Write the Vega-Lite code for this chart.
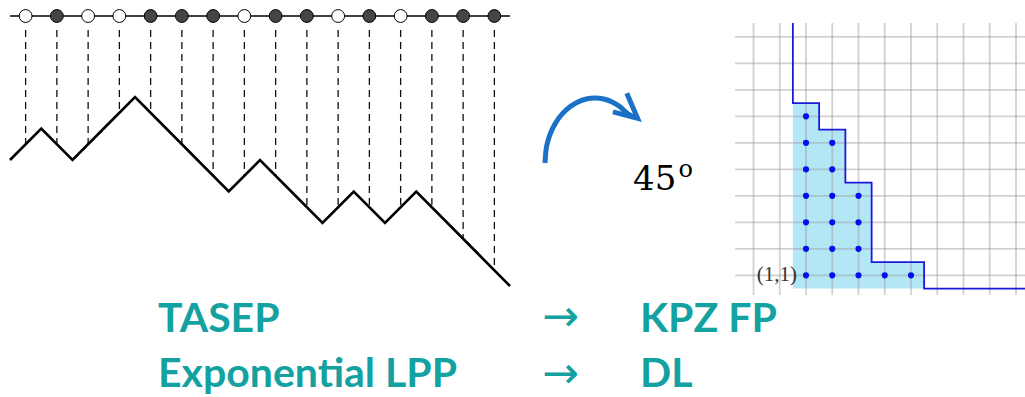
{
  "$schema": "https://vega.github.io/schema/vega-lite/v6.json",
  "width": 1025,
  "height": 397,
  "padding": 0,
  "autosize": {"type": "none"},
  "background": "white",
  "config": {"view": {"stroke": null}},
  "datasets": {
    "lattice": [{"x0": 0, "x1": 16, "h": 4.571}],
    "sites": [
      {"k": 0.5, "state": "empty", "hp": 0.5, "ht": 4.13, "hl": 4.571},
      {"k": 1.5, "state": "occupied", "hp": 0.5, "ht": 4.13, "hl": 4.571},
      {"k": 2.5, "state": "empty", "hp": 0.5, "ht": 4.13, "hl": 4.571},
      {"k": 3.5, "state": "empty", "hp": 1.5, "ht": 4.13, "hl": 4.571},
      {"k": 4.5, "state": "occupied", "hp": 1.5, "ht": 4.13, "hl": 4.571},
      {"k": 5.5, "state": "occupied", "hp": 0.5, "ht": 4.13, "hl": 4.571},
      {"k": 6.5, "state": "occupied", "hp": -0.5, "ht": 4.13, "hl": 4.571},
      {"k": 7.5, "state": "empty", "hp": -0.5, "ht": 4.13, "hl": 4.571},
      {"k": 8.5, "state": "occupied", "hp": -0.5, "ht": 4.13, "hl": 4.571},
      {"k": 9.5, "state": "occupied", "hp": -1.5, "ht": 4.13, "hl": 4.571},
      {"k": 10.5, "state": "empty", "hp": -1.5, "ht": 4.13, "hl": 4.571},
      {"k": 11.5, "state": "occupied", "hp": -1.5, "ht": 4.13, "hl": 4.571},
      {"k": 12.5, "state": "empty", "hp": -1.5, "ht": 4.13, "hl": 4.571},
      {"k": 13.5, "state": "occupied", "hp": -1.5, "ht": 4.13, "hl": 4.571},
      {"k": 14.5, "state": "occupied", "hp": -2.5, "ht": 4.13, "hl": 4.571},
      {"k": 15.5, "state": "occupied", "hp": -3.5, "ht": 4.13, "hl": 4.571}
    ],
    "path": [
      {"x": 0, "h": 0}, {"x": 1, "h": 1}, {"x": 2, "h": 0}, {"x": 3, "h": 1},
      {"x": 4, "h": 2}, {"x": 5, "h": 1}, {"x": 6, "h": 0}, {"x": 7, "h": -1},
      {"x": 8, "h": 0}, {"x": 9, "h": -1}, {"x": 10, "h": -2}, {"x": 11, "h": -1},
      {"x": 12, "h": -2}, {"x": 13, "h": -1}, {"x": 14, "h": -2}, {"x": 15, "h": -3},
      {"x": 16, "h": -4}
    ],
    "vgrid": [
      {"g": -1, "lo": 0.26, "hi": 10.52}, {"g": 0, "lo": 0.26, "hi": 10.52}, {"g": 1, "lo": 0.26, "hi": 10.52},
      {"g": 2, "lo": 0.26, "hi": 10.52}, {"g": 3, "lo": 0.26, "hi": 10.52}, {"g": 4, "lo": 0.26, "hi": 10.52},
      {"g": 5, "lo": 0.26, "hi": 10.52}, {"g": 6, "lo": 0.26, "hi": 10.52}, {"g": 7, "lo": 0.26, "hi": 10.52},
      {"g": 8, "lo": 0.26, "hi": 10.52}, {"g": 9, "lo": 0.26, "hi": 10.52}
    ],
    "hgrid": [
      {"g": 1, "lo": -1.7, "hi": 9.8}, {"g": 2, "lo": -1.7, "hi": 9.8}, {"g": 3, "lo": -1.7, "hi": 9.8},
      {"g": 4, "lo": -1.7, "hi": 9.8}, {"g": 5, "lo": -1.7, "hi": 9.8}, {"g": 6, "lo": -1.7, "hi": 9.8},
      {"g": 7, "lo": -1.7, "hi": 9.8}, {"g": 8, "lo": -1.7, "hi": 9.8}, {"g": 9, "lo": -1.7, "hi": 9.8},
      {"g": 10, "lo": -1.7, "hi": 9.8}
    ],
    "region": [
      {"i": 0.5, "top": 7.5, "base": 0.5}, {"i": 1.5, "top": 6.5, "base": 0.5}, {"i": 2.5, "top": 4.5, "base": 0.5},
      {"i": 3.5, "top": 1.5, "base": 0.5}, {"i": 5.5, "top": 1.5, "base": 0.5}
    ],
    "stairs": [
      {"o": 0, "i": 0.5, "j": 10.52}, {"o": 1, "i": 0.5, "j": 7.5}, {"o": 2, "i": 1.5, "j": 7.5},
      {"o": 3, "i": 1.5, "j": 6.5}, {"o": 4, "i": 2.5, "j": 6.5}, {"o": 5, "i": 2.5, "j": 4.5},
      {"o": 6, "i": 3.5, "j": 4.5}, {"o": 7, "i": 3.5, "j": 1.5}, {"o": 8, "i": 5.5, "j": 1.5},
      {"o": 9, "i": 5.5, "j": 0.5}, {"o": 10, "i": 9.8, "j": 0.5}
    ],
    "cells": [
      {"i": 1, "j": 1}, {"i": 1, "j": 2}, {"i": 1, "j": 3}, {"i": 1, "j": 4}, {"i": 1, "j": 5}, {"i": 1, "j": 6}, {"i": 1, "j": 7},
      {"i": 2, "j": 1}, {"i": 2, "j": 2}, {"i": 2, "j": 3}, {"i": 2, "j": 4}, {"i": 2, "j": 5}, {"i": 2, "j": 6},
      {"i": 3, "j": 1}, {"i": 3, "j": 2}, {"i": 3, "j": 3}, {"i": 3, "j": 4},
      {"i": 4, "j": 1}, {"i": 5, "j": 1}
    ],
    "origin": [{"t": "(1,1)", "i": 0.66, "j": 1}],
    "curve": [
      {"o": 0, "x": 53.17, "y": 41.06}, {"o": 1, "x": 53.25, "y": 38.21}, {"o": 2, "x": 53.46, "y": 35.47},
      {"o": 3, "x": 53.82, "y": 32.87}, {"o": 4, "x": 54.31, "y": 30.53}, {"o": 5, "x": 54.92, "y": 28.51},
      {"o": 6, "x": 55.61, "y": 26.88}, {"o": 7, "x": 56.38, "y": 25.67}, {"o": 8, "x": 57.2, "y": 24.94},
      {"o": 9, "x": 58.05, "y": 24.69}, {"o": 10, "x": 58.9, "y": 24.94}, {"o": 11, "x": 59.72, "y": 25.67},
      {"o": 12, "x": 60.49, "y": 26.88}, {"o": 13, "x": 61.18, "y": 28.51}, {"o": 14, "x": 61.76, "y": 29.47}
    ],
    "head": [
      {"o": 0, "x": 61.15, "y": 23.5}, {"o": 1, "x": 62.2, "y": 29.8}, {"o": 2, "x": 59.8, "y": 28.2}
    ],
    "titles": [
      {"t": "TASEP", "x": 15.41, "y": 83.63},
      {"t": "Exponential LPP", "x": 15.41, "y": 97.4},
      {"t": "KPZ FP", "x": 62.44, "y": 83.63},
      {"t": "DL", "x": 62.44, "y": 97.4}
    ],
    "arrows": [
      {"t": "→", "x": 54.68, "y": 80.1},
      {"t": "→", "x": 54.68, "y": 94.46}
    ],
    "angle": [{"t": "45", "x": 61.76, "y": 47.86}],
    "sup": [{"t": "o", "x": 66.2, "y": 44.58}]
  },
  "layer": [
    {
      "layer": [
        {
          "data": {"name": "lattice"},
          "mark": {"type": "rule", "stroke": "#000000", "strokeWidth": 1.6},
          "encoding": {
            "x": {"field": "x0", "type": "quantitative", "scale": {"domain": [0, 16], "range": [10, 510], "nice": false, "zero": false}, "axis": null},
            "x2": {"field": "x1"},
            "y": {"field": "h", "type": "quantitative", "scale": {"domain": [-5, 5], "range": [317.5, 2.5], "nice": false, "zero": false}, "axis": null}
          }
        },
        {
          "data": {"name": "sites"},
          "mark": {"type": "rule", "stroke": "#111111", "strokeWidth": 1.3, "strokeDash": [7, 5]},
          "encoding": {
            "x": {"field": "k", "type": "quantitative", "scale": {"domain": [0, 16], "range": [10, 510], "nice": false, "zero": false}, "axis": null},
            "y": {"field": "ht", "type": "quantitative", "scale": {"domain": [-5, 5], "range": [317.5, 2.5], "nice": false, "zero": false}, "axis": null},
            "y2": {"field": "hp"}
          }
        },
        {
          "data": {"name": "path"},
          "mark": {"type": "line", "stroke": "#000000", "strokeWidth": 2.6, "strokeJoin": "miter"},
          "encoding": {
            "x": {"field": "x", "type": "quantitative", "scale": {"domain": [0, 16], "range": [10, 510], "nice": false, "zero": false}, "axis": null},
            "y": {"field": "h", "type": "quantitative", "scale": {"domain": [-5, 5], "range": [317.5, 2.5], "nice": false, "zero": false}, "axis": null}
          }
        },
        {
          "data": {"name": "sites"},
          "mark": {"type": "point", "shape": "circle", "filled": true, "size": 165, "stroke": "#000000", "strokeWidth": 1, "opacity": 1},
          "encoding": {
            "x": {"field": "k", "type": "quantitative", "scale": {"domain": [0, 16], "range": [10, 510], "nice": false, "zero": false}, "axis": null},
            "y": {"field": "hl", "type": "quantitative", "scale": {"domain": [-5, 5], "range": [317.5, 2.5], "nice": false, "zero": false}, "axis": null},
            "fill": {"field": "state", "type": "nominal", "scale": {"domain": ["empty", "occupied"], "range": ["#ffffff", "#454545"]}, "legend": null}
          }
        }
      ]
    },
    {
      "layer": [
        {
          "data": {"name": "region"},
          "mark": {"type": "area", "interpolate": "step-after", "color": "#b3e7f6", "opacity": 1},
          "encoding": {
            "x": {"field": "i", "type": "quantitative", "scale": {"domain": [-2, 10], "range": [727.25, 1042.25], "nice": false, "zero": false}, "axis": null},
            "y": {"field": "top", "type": "quantitative", "scale": {"domain": [0, 11], "range": [301.8, 10.3], "nice": false, "zero": false}, "axis": null},
            "y2": {"field": "base"}
          }
        },
        {
          "data": {"name": "vgrid"},
          "mark": {"type": "rule", "stroke": "#9a9a9a", "strokeWidth": 1.8, "opacity": 0.45},
          "encoding": {
            "x": {"field": "g", "type": "quantitative", "scale": {"domain": [-2, 10], "range": [727.25, 1042.25], "nice": false, "zero": false}, "axis": null},
            "y": {"field": "lo", "type": "quantitative", "scale": {"domain": [0, 11], "range": [301.8, 10.3], "nice": false, "zero": false}, "axis": null},
            "y2": {"field": "hi"}
          }
        },
        {
          "data": {"name": "hgrid"},
          "mark": {"type": "rule", "stroke": "#9a9a9a", "strokeWidth": 1.8, "opacity": 0.45},
          "encoding": {
            "x": {"field": "lo", "type": "quantitative", "scale": {"domain": [-2, 10], "range": [727.25, 1042.25], "nice": false, "zero": false}, "axis": null},
            "x2": {"field": "hi"},
            "y": {"field": "g", "type": "quantitative", "scale": {"domain": [0, 11], "range": [301.8, 10.3], "nice": false, "zero": false}, "axis": null}
          }
        },
        {
          "data": {"name": "stairs"},
          "mark": {"type": "line", "stroke": "#1a1ad8", "strokeWidth": 1.8, "strokeJoin": "miter"},
          "encoding": {
            "x": {"field": "i", "type": "quantitative", "scale": {"domain": [-2, 10], "range": [727.25, 1042.25], "nice": false, "zero": false}, "axis": null},
            "y": {"field": "j", "type": "quantitative", "scale": {"domain": [0, 11], "range": [301.8, 10.3], "nice": false, "zero": false}, "axis": null},
            "order": {"field": "o", "type": "quantitative"}
          }
        },
        {
          "data": {"name": "cells"},
          "mark": {"type": "point", "shape": "circle", "filled": true, "size": 38, "color": "#0010ee", "opacity": 1},
          "encoding": {
            "x": {"field": "i", "type": "quantitative", "scale": {"domain": [-2, 10], "range": [727.25, 1042.25], "nice": false, "zero": false}, "axis": null},
            "y": {"field": "j", "type": "quantitative", "scale": {"domain": [0, 11], "range": [301.8, 10.3], "nice": false, "zero": false}, "axis": null}
          }
        },
        {
          "data": {"name": "origin"},
          "mark": {"type": "text", "font": "Liberation Serif", "fontSize": 21, "color": "#333333", "align": "right", "baseline": "middle"},
          "encoding": {
            "x": {"field": "i", "type": "quantitative", "scale": {"domain": [-2, 10], "range": [727.25, 1042.25], "nice": false, "zero": false}, "axis": null},
            "y": {"field": "j", "type": "quantitative", "scale": {"domain": [0, 11], "range": [301.8, 10.3], "nice": false, "zero": false}, "axis": null},
            "text": {"field": "t", "type": "nominal"}
          }
        }
      ]
    },
    {
      "layer": [
        {
          "data": {"name": "curve"},
          "mark": {"type": "line", "stroke": "#1b70c8", "strokeWidth": 5, "strokeCap": "butt", "interpolate": "monotone"},
          "encoding": {
            "x": {"field": "x", "type": "quantitative", "scale": {"domain": [0, 100], "range": [0, 1025], "nice": false, "zero": false}, "axis": null},
            "y": {"field": "y", "type": "quantitative", "scale": {"domain": [0, 100], "range": [0, 397], "nice": false, "zero": false}, "axis": null},
            "order": {"field": "o", "type": "quantitative"}
          }
        },
        {
          "data": {"name": "head"},
          "mark": {"type": "line", "stroke": "#1b70c8", "strokeWidth": 5, "strokeCap": "butt", "strokeJoin": "miter"},
          "encoding": {
            "x": {"field": "x", "type": "quantitative", "scale": {"domain": [0, 100], "range": [0, 1025], "nice": false, "zero": false}, "axis": null},
            "y": {"field": "y", "type": "quantitative", "scale": {"domain": [0, 100], "range": [0, 397], "nice": false, "zero": false}, "axis": null},
            "order": {"field": "o", "type": "quantitative"}
          }
        },
        {
          "data": {"name": "titles"},
          "mark": {"type": "text", "font": "Lato", "fontWeight": "bold", "fontSize": 41, "color": "#14a1a1", "align": "left", "baseline": "alphabetic"},
          "encoding": {
            "x": {"field": "x", "type": "quantitative", "scale": {"domain": [0, 100], "range": [0, 1025], "nice": false, "zero": false}, "axis": null},
            "y": {"field": "y", "type": "quantitative", "scale": {"domain": [0, 100], "range": [0, 397], "nice": false, "zero": false}, "axis": null},
            "text": {"field": "t", "type": "nominal"}
          }
        },
        {
          "data": {"name": "arrows"},
          "mark": {"type": "text", "font": "DejaVu Sans", "fontSize": 44, "color": "#14a1a1", "align": "center", "baseline": "middle"},
          "encoding": {
            "x": {"field": "x", "type": "quantitative", "scale": {"domain": [0, 100], "range": [0, 1025], "nice": false, "zero": false}, "axis": null},
            "y": {"field": "y", "type": "quantitative", "scale": {"domain": [0, 100], "range": [0, 397], "nice": false, "zero": false}, "axis": null},
            "text": {"field": "t", "type": "nominal"}
          }
        },
        {
          "data": {"name": "angle"},
          "mark": {"type": "text", "font": "DejaVu Serif", "fontSize": 34, "color": "#000000", "align": "left", "baseline": "alphabetic"},
          "encoding": {
            "x": {"field": "x", "type": "quantitative", "scale": {"domain": [0, 100], "range": [0, 1025], "nice": false, "zero": false}, "axis": null},
            "y": {"field": "y", "type": "quantitative", "scale": {"domain": [0, 100], "range": [0, 397], "nice": false, "zero": false}, "axis": null},
            "text": {"field": "t", "type": "nominal"}
          }
        },
        {
          "data": {"name": "sup"},
          "mark": {"type": "text", "font": "DejaVu Serif", "fontSize": 24, "color": "#000000", "align": "left", "baseline": "alphabetic"},
          "encoding": {
            "x": {"field": "x", "type": "quantitative", "scale": {"domain": [0, 100], "range": [0, 1025], "nice": false, "zero": false}, "axis": null},
            "y": {"field": "y", "type": "quantitative", "scale": {"domain": [0, 100], "range": [0, 397], "nice": false, "zero": false}, "axis": null},
            "text": {"field": "t", "type": "nominal"}
          }
        }
      ]
    }
  ],
  "resolve": {"scale": {"x": "independent", "y": "independent"}}
}
